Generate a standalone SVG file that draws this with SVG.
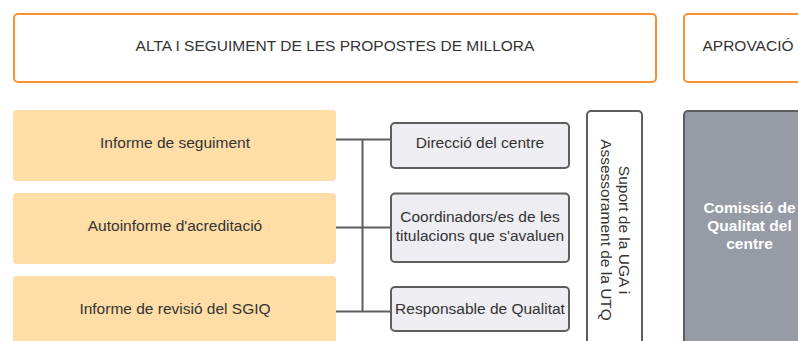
<svg xmlns="http://www.w3.org/2000/svg" width="798" height="341" viewBox="0 0 798 341">
<style>
.hdr{fill:#ffffff;stroke:#f79233;stroke-width:2}
.src{fill:#ffdda6;stroke:none}
.who{fill:#ededf2;stroke:#5e5e5e;stroke-width:2}
.sup{fill:#ffffff;stroke:#5e5e5e;stroke-width:2}
.com{fill:#979ba5;stroke:#5e5e5e;stroke-width:2}
text{font-family:"Liberation Sans",Arial,sans-serif;fill:#333333;text-anchor:middle}
.t15{font-size:15.5px}
.t14{font-size:15.5px}
.wb{font-size:15.5px;font-weight:bold;fill:#ffffff}
.conn{fill:none;stroke:#5e5e5e;stroke-width:2}
</style>
<rect width="798" height="341" fill="#ffffff"/>
<g id="hdr-alta">
<rect class="hdr" x="14" y="14" width="642" height="68" rx="4"/>
<text class="t15" x="335" y="51">ALTA I SEGUIMENT DE LES PROPOSTES DE MILLORA</text>
</g>
<g id="hdr-aprovacio">
<rect class="hdr" x="684" y="14" width="140" height="68" rx="4"/>
<text class="t15" x="748" y="51">APROVACIÓ</text>
</g>
<g id="connectors">
<path class="conn" d="M336 139.5H390M336 227.5H390M336 311.5H390M362.5 139.5V311.5"/>
</g>
<g id="src-seguiment">
<rect class="src" x="13" y="110" width="323" height="71" rx="4"/>
<text class="t15" x="175" y="148">Informe de seguiment</text>
</g>
<g id="src-autoinforme">
<rect class="src" x="13" y="193" width="323" height="71" rx="4"/>
<text class="t15" x="175" y="231">Autoinforme d'acreditació</text>
</g>
<g id="src-revisio">
<rect class="src" x="13" y="276" width="323" height="71" rx="4"/>
<text class="t15" x="175" y="314">Informe de revisió del SGIQ</text>
</g>
<g id="who-direccio">
<rect class="who" x="391" y="123" width="178" height="45" rx="4"/>
<text class="t14" x="480" y="148">Direcció del centre</text>
</g>
<g id="who-coordinadors">
<rect class="who" x="391" y="193.5" width="178" height="68.5" rx="4"/>
<text class="t14" x="480" y="222">Coordinadors/es de les</text>
<text class="t14" x="480" y="240.5">titulacions que s'avaluen</text>
</g>
<g id="who-responsable">
<rect class="who" x="391" y="287" width="178" height="44" rx="4"/>
<text class="t14" x="480" y="313.5">Responsable de Qualitat</text>
</g>
<g id="suport">
<rect class="sup" x="587" y="111" width="55" height="250" rx="4"/>
<g transform="translate(614.5 230) rotate(90)">
<text class="t14" x="0" y="-4">Suport de la UGA i</text>
<text class="t14" x="0" y="14">Assessorament de la UTQ</text>
</g>
</g>
<g id="comissio">
<rect class="com" x="684" y="111" width="131" height="250" rx="4"/>
<text class="wb" x="749.5" y="213">Comissió de</text>
<text class="wb" x="749.5" y="231">Qualitat del</text>
<text class="wb" x="749.5" y="249">centre</text>
</g>
</svg>
